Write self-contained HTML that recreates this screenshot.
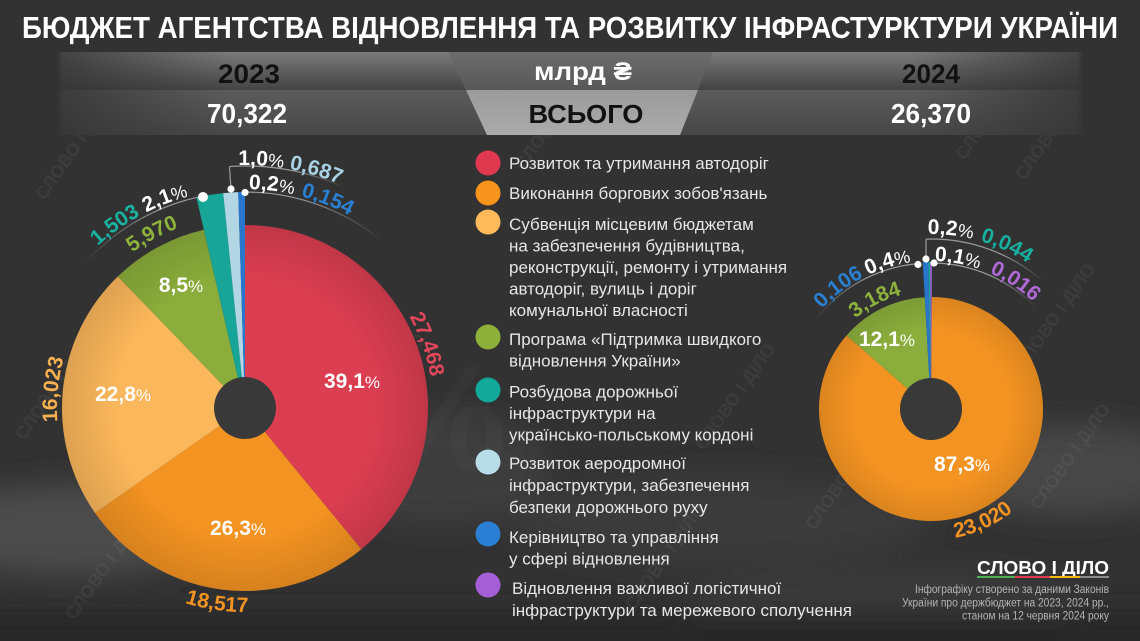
<!DOCTYPE html>
<html><head><meta charset="utf-8">
<style>
html,body{margin:0;padding:0;background:#323232;}
svg{display:block;}
text{font-family:"Liberation Sans","DejaVu Sans",sans-serif;}
</style></head>
<body>
<svg width="1140" height="641" viewBox="0 0 1140 641" xmlns="http://www.w3.org/2000/svg">
<defs>
  <filter id="blur" x="-50%" y="-50%" width="200%" height="200%"><feGaussianBlur stdDeviation="14"/></filter>
  <linearGradient id="rowTop" x1="0" y1="0" x2="0" y2="1">
    <stop offset="0" stop-color="#7a7a7a"/><stop offset="1" stop-color="#434343"/>
  </linearGradient>
  <linearGradient id="rowBot" x1="0" y1="0" x2="0" y2="1">
    <stop offset="0" stop-color="#5c5c5c"/><stop offset="1" stop-color="#474747"/>
  </linearGradient>
  <linearGradient id="trapTop" x1="0" y1="0" x2="0" y2="1">
    <stop offset="0" stop-color="#6c6c6c"/><stop offset="1" stop-color="#585858"/>
  </linearGradient>
  <linearGradient id="trapBot" x1="0" y1="0" x2="0" y2="1">
    <stop offset="0" stop-color="#9a9a9a"/><stop offset="1" stop-color="#ababab"/>
  </linearGradient>
  <linearGradient id="edgeFade" x1="0" y1="0" x2="1" y2="0">
    <stop offset="0" stop-color="#323232" stop-opacity="1"/>
    <stop offset="0.05" stop-color="#323232" stop-opacity="1"/>
    <stop offset="0.055" stop-color="#323232" stop-opacity="0.75"/>
    <stop offset="0.2" stop-color="#323232" stop-opacity="0"/>
    <stop offset="0.8" stop-color="#323232" stop-opacity="0"/>
    <stop offset="0.945" stop-color="#323232" stop-opacity="0.75"/>
    <stop offset="0.95" stop-color="#323232" stop-opacity="1"/>
    <stop offset="1" stop-color="#323232" stop-opacity="1"/>
  </linearGradient>
  <radialGradient id="shadeL" cx="245" cy="408" r="183" gradientUnits="userSpaceOnUse">
    <stop offset="0" stop-color="#000" stop-opacity="0"/>
    <stop offset="0.7" stop-color="#000" stop-opacity="0"/>
    <stop offset="1" stop-color="#000" stop-opacity="0.12"/>
  </radialGradient>
  <radialGradient id="shadeR" cx="931" cy="409" r="112" gradientUnits="userSpaceOnUse">
    <stop offset="0" stop-color="#000" stop-opacity="0"/>
    <stop offset="0.7" stop-color="#000" stop-opacity="0"/>
    <stop offset="1" stop-color="#000" stop-opacity="0.1"/>
  </radialGradient>
  <linearGradient id="arcL1" gradientUnits="userSpaceOnUse" x1="83" y1="0" x2="160" y2="0">
    <stop offset="0" stop-color="#9a9a9a" stop-opacity="0"/><stop offset="1" stop-color="#9a9a9a" stop-opacity="1"/>
  </linearGradient>
  <linearGradient id="arcL2" gradientUnits="userSpaceOnUse" x1="300" y1="0" x2="383" y2="0">
    <stop offset="0" stop-color="#9a9a9a" stop-opacity="1"/><stop offset="1" stop-color="#9a9a9a" stop-opacity="0"/>
  </linearGradient>
  <linearGradient id="arcL3" gradientUnits="userSpaceOnUse" x1="290" y1="0" x2="344" y2="0">
    <stop offset="0" stop-color="#9a9a9a" stop-opacity="1"/><stop offset="1" stop-color="#9a9a9a" stop-opacity="0"/>
  </linearGradient>
  <linearGradient id="arcR1" gradientUnits="userSpaceOnUse" x1="814" y1="0" x2="870" y2="0">
    <stop offset="0" stop-color="#9a9a9a" stop-opacity="0"/><stop offset="1" stop-color="#9a9a9a" stop-opacity="1"/>
  </linearGradient>
  <linearGradient id="arcR2" gradientUnits="userSpaceOnUse" x1="990" y1="0" x2="1037" y2="0">
    <stop offset="0" stop-color="#9a9a9a" stop-opacity="1"/><stop offset="1" stop-color="#9a9a9a" stop-opacity="0"/>
  </linearGradient>
  <linearGradient id="arcR3" gradientUnits="userSpaceOnUse" x1="1000" y1="0" x2="1044" y2="0">
    <stop offset="0" stop-color="#9a9a9a" stop-opacity="1"/><stop offset="1" stop-color="#9a9a9a" stop-opacity="0"/>
  </linearGradient>

  <path id="cw219" d="M245,627 A219,219 0 1 1 245,189 A219,219 0 1 1 245,627"/>
  <path id="cw192" d="M245,600 A192,192 0 1 1 245,216 A192,192 0 1 1 245,600"/>
  <path id="cw243" d="M245,651 A243,243 0 1 1 245,165 A243,243 0 1 1 245,651"/>
  <path id="cw188" d="M245,596 A188,188 0 1 1 245,220 A188,188 0 1 1 245,596"/>
  <path id="ccw204" d="M245,204 A204,204 0 1 0 245,612 A204,204 0 1 0 245,204"/>
  <path id="rcw148" d="M931,557 A148,148 0 1 1 931,261 A148,148 0 1 1 931,557"/>
  <path id="rcw118" d="M931,527 A118,118 0 1 1 931,291 A118,118 0 1 1 931,527"/>
  <path id="rcw175" d="M931,584 A175,175 0 1 1 931,234 A175,175 0 1 1 931,584"/>
  <path id="rccw131" d="M931,278 A131,131 0 1 0 931,540 A131,131 0 1 0 931,278"/>
</defs>

<rect width="1140" height="641" fill="#323232"/>
<g filter="url(#blur)">
  <ellipse cx="70" cy="530" rx="150" ry="45" fill="#4c4c4c"/>
  <ellipse cx="440" cy="470" rx="110" ry="55" fill="#3d3d3d"/>
  <ellipse cx="1070" cy="470" rx="130" ry="45" fill="#464646"/>
  <ellipse cx="720" cy="520" rx="210" ry="45" fill="#3a3a3a"/>
  <ellipse cx="880" cy="600" rx="200" ry="30" fill="#3b3b3b"/>
  <rect x="-40" y="612" width="1220" height="60" fill="#262626"/>
</g>
<text x="440" y="470" font-size="150" font-weight="700" fill="#ffffff" fill-opacity="0.022" text-anchor="middle">%</text>

<g fill="#ffffff" fill-opacity="0.05" font-size="18" font-weight="700">
  <text transform="translate(80,150) rotate(-55)" text-anchor="middle">СЛОВО І ДІЛО</text>
  <text transform="translate(560,120) rotate(-55)" text-anchor="middle">СЛОВО І ДІЛО</text>
  <text transform="translate(1060,130) rotate(-55)" text-anchor="middle">СЛОВО І ДІЛО</text>
  <text transform="translate(60,390) rotate(-55)" text-anchor="middle">СЛОВО І ДІЛО</text>
  <text transform="translate(390,390) rotate(-55)" text-anchor="middle">СЛОВО І ДІЛО</text>
  <text transform="translate(110,570) rotate(-55)" text-anchor="middle">СЛОВО І ДІЛО</text>
  <text transform="translate(740,400) rotate(-55)" text-anchor="middle">СЛОВО І ДІЛО</text>
  <text transform="translate(850,480) rotate(-55)" text-anchor="middle">СЛОВО І ДІЛО</text>
  <text transform="translate(670,560) rotate(-55)" text-anchor="middle">СЛОВО І ДІЛО</text>
  <text transform="translate(1060,320) rotate(-55)" text-anchor="middle">СЛОВО І ДІЛО</text>
  <text transform="translate(1075,460) rotate(-55)" text-anchor="middle">СЛОВО І ДІЛО</text>
  <text transform="translate(1000,110) rotate(-55)" text-anchor="middle">СЛОВО І ДІЛО</text>
</g>

<text x="22" y="38" font-size="31" font-weight="700" fill="#ffffff" textLength="1096" lengthAdjust="spacingAndGlyphs">БЮДЖЕТ АГЕНТСТВА ВІДНОВЛЕННЯ ТА РОЗВИТКУ ІНФРАСТУРКТУРИ УКРАЇНИ</text>

<rect x="0" y="52" width="1140" height="38" fill="url(#rowTop)"/>
<rect x="0" y="90" width="1140" height="45" fill="url(#rowBot)"/>
<polygon points="448,52 713,52 698,90 466,90" fill="url(#trapTop)"/>
<polygon points="466,90 698,90 680,135 487,135" fill="url(#trapBot)"/>
<rect x="0" y="52" width="1140" height="83" fill="url(#edgeFade)"/>

<text x="249" y="83" font-size="27" font-weight="700" fill="#111" text-anchor="middle" textLength="62" lengthAdjust="spacingAndGlyphs">2023</text>
<text x="583" y="80" font-size="25" font-weight="700" fill="#ffffff" text-anchor="middle" textLength="98" lengthAdjust="spacingAndGlyphs">млрд ₴</text>
<text x="931" y="83" font-size="27" font-weight="700" fill="#111" text-anchor="middle" textLength="58" lengthAdjust="spacingAndGlyphs">2024</text>
<text x="247" y="123" font-size="28" font-weight="700" fill="#ffffff" text-anchor="middle" textLength="80" lengthAdjust="spacingAndGlyphs">70,322</text>
<text x="586" y="123" font-size="26" font-weight="700" fill="#111" text-anchor="middle" textLength="115" lengthAdjust="spacingAndGlyphs">ВСЬОГО</text>
<text x="931" y="123" font-size="28" font-weight="700" fill="#ffffff" text-anchor="middle" textLength="80" lengthAdjust="spacingAndGlyphs">26,370</text>

<g>
  <path d="M245,408 L245,225 A183,183 0 0 1 361.4,549.2 Z" fill="#db3e51"/>
  <path d="M245,408 L361.4,549.2 A183,183 0 0 1 95.1,513 Z" fill="#f39322"/>
  <path d="M245,408 L95.1,513 A183,183 0 0 1 117.9,276.4 Z" fill="#fbb75b"/>
  <path d="M245,408 L117.9,276.4 A183,183 0 0 1 203.8,229.7 Z" fill="#8aad3b"/>
  <circle cx="245" cy="408" r="183" fill="url(#shadeL)"/>
  <path d="M245,408 L196.4,197.5 A216,216 0 0 1 223.2,193.1 Z" fill="#17a597"/>
  <path d="M245,408 L223.2,193.1 A216,216 0 0 1 238.2,192.1 Z" fill="#b3d6e5"/>
  <path d="M245,408 L238.2,192.1 A216,216 0 0 1 245,192 Z" fill="#2877cc"/>
  <circle cx="245" cy="408" r="31" fill="#393939"/>
</g>
<path d="M83,265.2 A216,216 0 0 1 201.9,196.3" fill="none" stroke="url(#arcL1)" stroke-width="1.2"/>
<path d="M245,192 A216,216 0 0 1 383,241.8" fill="none" stroke="url(#arcL2)" stroke-width="1.2"/>
<path d="M229.4,166.5 A242,242 0 0 1 343.4,186.9" fill="none" stroke="url(#arcL3)" stroke-width="1.2"/>
<line x1="231" y1="189" x2="229.4" y2="166.5" stroke="#9a9a9a" stroke-width="1.2"/>
<circle cx="203" cy="197" r="5" fill="#ffffff"/>
<circle cx="231" cy="189" r="3.6" fill="#ffffff"/>
<circle cx="245" cy="192.5" r="3.6" fill="#ffffff"/>

<g font-size="21" font-weight="700">
  <text fill="#1ab3a3" text-anchor="middle"><textPath href="#cw219" startOffset="552.7">1,503</textPath></text>
  <text fill="#ffffff" text-anchor="middle"><textPath href="#cw219" startOffset="608.1">2,1<tspan font-weight="400" font-size="18">%</tspan></textPath></text>
  <text fill="#ffffff" text-anchor="middle"><textPath href="#cw219" startOffset="714.4">0,2<tspan font-weight="400" font-size="18">%</tspan></textPath></text>
  <text fill="#2a80d2" text-anchor="middle"><textPath href="#cw219" startOffset="770.6">0,154</textPath></text>
  <text fill="#8db33d" text-anchor="middle"><textPath href="#cw192" startOffset="508.7">5,970</textPath></text>
  <text fill="#ffffff" text-anchor="middle"><textPath href="#cw243" startOffset="779.1">1,0<tspan font-weight="400" font-size="18">%</tspan></textPath></text>
  <text fill="#a9d3e5" text-anchor="middle"><textPath href="#cw243" startOffset="833.8">0,687</textPath></text>
  <text fill="#e2475b" text-anchor="middle"><textPath href="#cw188" startOffset="822.3">27,468</textPath></text>
  <text fill="#f7b04f" text-anchor="middle"><textPath href="#cw188" startOffset="313.4">16,023</textPath></text>
  <text fill="#f39322" text-anchor="middle"><textPath href="#ccw204" startOffset="611.7">18,517</textPath></text>
</g>
<g font-size="21" font-weight="700" fill="#ffffff" text-anchor="middle">
  <text x="352" y="388">39,1<tspan font-weight="400" font-size="17">%</tspan></text>
  <text x="238" y="535">26,3<tspan font-weight="400" font-size="17">%</tspan></text>
  <text x="123" y="401">22,8<tspan font-weight="400" font-size="17">%</tspan></text>
  <text x="181" y="292">8,5<tspan font-weight="400" font-size="17">%</tspan></text>
</g>

<g>
  <path d="M931,409 L931.8,297 A112,112 0 1 1 846.5,335.5 Z" fill="#f39322"/>
  <path d="M931,409 L846.5,335.5 A112,112 0 0 1 924.75,297.2 Z" fill="#8aad3b"/>
  <circle cx="931" cy="409" r="112" fill="url(#shadeR)"/>
  <path d="M931,409 L922.8,262.2 A147,147 0 0 1 928.4,262 Z" fill="#2877cc"/>
  <path d="M931,409 L928.4,262 A147,147 0 0 1 930.2,262 Z" fill="#17a597"/>
  <path d="M931,409 L930.2,262 A147,147 0 0 1 932,262 Z" fill="#a45ed4"/>
  <circle cx="931" cy="409" r="31" fill="#393939"/>
</g>
<path d="M814.4,321.1 A146,146 0 0 1 917.8,263.6" fill="none" stroke="url(#arcR1)" stroke-width="1.2"/>
<path d="M934.1,263 A146,146 0 0 1 1036.7,308.3" fill="none" stroke="url(#arcR2)" stroke-width="1.2"/>
<path d="M926,239.1 A170,170 0 0 1 1043.4,281.5" fill="none" stroke="url(#arcR3)" stroke-width="1.2"/>
<line x1="926" y1="259" x2="926" y2="239.1" stroke="#9a9a9a" stroke-width="1.2"/>
<circle cx="918" cy="264.5" r="3.6" fill="#ffffff"/>
<circle cx="926" cy="259" r="3.6" fill="#ffffff"/>
<circle cx="934" cy="263" r="3.6" fill="#ffffff"/>

<g font-size="21" font-weight="700">
  <text fill="#2a80d2" text-anchor="middle"><textPath href="#rcw148" startOffset="368.6">0,106</textPath></text>
  <text fill="#ffffff" text-anchor="middle"><textPath href="#rcw148" startOffset="422.3">0,4<tspan font-weight="400" font-size="18">%</tspan></textPath></text>
  <text fill="#ffffff" text-anchor="middle"><textPath href="#rcw148" startOffset="491">0,1<tspan font-weight="400" font-size="18">%</tspan></textPath></text>
  <text fill="#b06ad8" text-anchor="middle"><textPath href="#rcw148" startOffset="551.2">0,016</textPath></text>
  <text fill="#8db33d" text-anchor="middle"><textPath href="#rcw118" startOffset="314.7">3,184</textPath></text>
  <text fill="#ffffff" text-anchor="middle"><textPath href="#rcw175" startOffset="569">0,2<tspan font-weight="400" font-size="18">%</tspan></textPath></text>
  <text fill="#17b0a0" text-anchor="middle"><textPath href="#rcw175" startOffset="625.8">0,044</textPath></text>
  <text fill="#f39322" text-anchor="middle"><textPath href="#rccw131" startOffset="468">23,020</textPath></text>
</g>
<g font-size="21" font-weight="700" fill="#ffffff" text-anchor="middle">
  <text x="887" y="346">12,1<tspan font-weight="400" font-size="17">%</tspan></text>
  <text x="962" y="471">87,3<tspan font-weight="400" font-size="17">%</tspan></text>
</g>

<g>
  <circle cx="488" cy="163" r="12.5" fill="#e0394f"/>
  <circle cx="488" cy="193" r="12.5" fill="#f7941d"/>
  <circle cx="488" cy="222" r="12.5" fill="#fdb95a"/>
  <circle cx="488" cy="337" r="12.5" fill="#8cb03a"/>
  <circle cx="488" cy="390" r="12.5" fill="#12a89a"/>
  <circle cx="488" cy="462" r="12.5" fill="#b8dde8"/>
  <circle cx="488" cy="534" r="12.5" fill="#2a7fd4"/>
  <circle cx="488" cy="585" r="12.5" fill="#a55fd6"/>
</g>
<g font-size="17" fill="#e6e6e6">
  <text x="509" y="169">Розвиток та утримання автодоріг</text>
  <text x="509" y="199">Виконання боргових зобов'язань</text>
  <text x="509" y="230">Субвенція місцевим бюджетам</text>
  <text x="509" y="251.5">на забезпечення будівництва,</text>
  <text x="509" y="273">реконструкції, ремонту і утримання</text>
  <text x="509" y="294.5">автодоріг, вулиць і доріг</text>
  <text x="509" y="316">комунальної власності</text>
  <text x="509" y="345">Програма «Підтримка швидкого</text>
  <text x="509" y="366.5">відновлення України»</text>
  <text x="509" y="397.5">Розбудова дорожньої</text>
  <text x="509" y="419">інфраструктури на</text>
  <text x="509" y="440.5">українсько-польському кордоні</text>
  <text x="509" y="469">Розвиток аеродромної</text>
  <text x="509" y="491">інфраструктури, забезпечення</text>
  <text x="509" y="513">безпеки дорожнього руху</text>
  <text x="509" y="543">Керівництво та управління</text>
  <text x="509" y="564.5">у сфері відновлення</text>
  <text x="512" y="594">Відновлення важливої логістичної</text>
  <text x="512" y="616">інфраструктури та мережевого сполучення</text>
</g>

<text x="977" y="574" font-size="18" font-weight="700" fill="#ffffff" textLength="132" lengthAdjust="spacingAndGlyphs">СЛОВО І ДІЛО</text>
<rect x="977" y="576" width="38" height="2" fill="#4caf50"/>
<rect x="1015" y="576" width="35" height="2" fill="#e0394f"/>
<rect x="1050" y="576" width="30" height="2" fill="#f5b90a"/>
<rect x="1080" y="576" width="29" height="2" fill="#8a8a8a"/>
<g font-size="11.5" fill="#b4b4b4" text-anchor="end">
  <text x="1109" y="593" textLength="194" lengthAdjust="spacingAndGlyphs">Інфографіку створено за даними Законів</text>
  <text x="1109" y="606.5" textLength="207" lengthAdjust="spacingAndGlyphs">України про держбюджет на 2023, 2024 рр.,</text>
  <text x="1109" y="619.5" textLength="147" lengthAdjust="spacingAndGlyphs">станом на 12 червня 2024 року</text>
</g>
</svg>
</body></html>
